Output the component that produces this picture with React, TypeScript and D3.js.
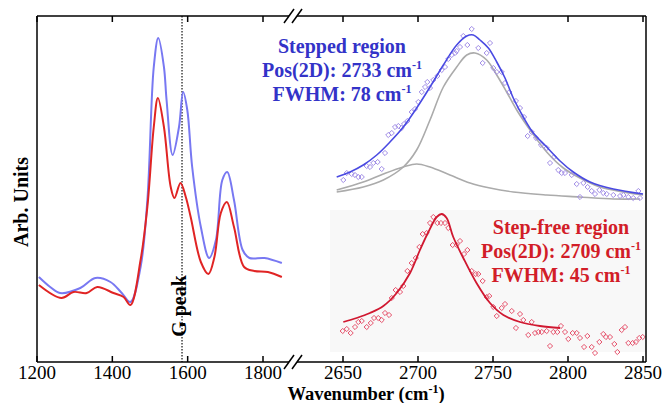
import { useEffect, useRef } from "react";
import * as d3 from "d3";

// left panel: D / G band region (arb. units)
const blueLeftX = [1205, 1235, 1261, 1315, 1355, 1395, 1425, 1448, 1475, 1493, 1510, 1522, 1537, 1544, 1560, 1577, 1588, 1599, 1612, 1635, 1657, 1675, 1692, 1705, 1723, 1746, 1764, 1804, 1850];
const blueLeftY = [85, 75, 69, 74, 84, 80, 69, 60, 95, 162, 295, 324, 295, 262, 207, 235, 270, 252, 195, 135, 104, 122, 182, 190, 162, 112, 104, 104, 99];
const redLeftX = [1205, 1265, 1297, 1332, 1360, 1403, 1430, 1448, 1475, 1493, 1510, 1521, 1537, 1555, 1565, 1581, 1595, 1608, 1635, 1655, 1671, 1688, 1704, 1723, 1750, 1777, 1813, 1850];
const redLeftY = [77, 64, 70, 69, 75, 69, 65, 57, 102, 155, 235, 264, 235, 175, 164, 179, 165, 145, 100, 88, 105, 149, 160, 135, 95, 91, 90, 85];
const gPeak = 1585;

// right panel, stepped region (2D band)
const stepX = [2650.2, 2652.5, 2655.8, 2658, 2660.2, 2662.5, 2665.8, 2668, 2670.2, 2673.1, 2675.8, 2678, 2680.2, 2682.5, 2684.7, 2686.9, 2689.1, 2690.7, 2692.9, 2695.8, 2698, 2700.2, 2702.5, 2704.7, 2706.2, 2708, 2710.2, 2712.9, 2715.8, 2718, 2720.2, 2722.5, 2724.7, 2725.8, 2728, 2730.2, 2732.9, 2735.8, 2740.2, 2743.1, 2745.8, 2748, 2750.2, 2752.5, 2755.8, 2758, 2760.9, 2765.3, 2768, 2770.7, 2773.1, 2775.8, 2778.7, 2782, 2785.8, 2788, 2790.7, 2793.5, 2795.8, 2798, 2802.5, 2805.8, 2808, 2810.2, 2813.1, 2815.8, 2818, 2820.9, 2823.5, 2825.8, 2830.2, 2834.7, 2836.9, 2840.2, 2843.5, 2846.9, 2848];
const stepY = [182, 189, 188, 187, 185, 185, 196, 195, 199, 200, 193, 209, 227, 229, 235, 236, 234, 238, 241, 250, 253, 260, 270, 275, 280, 274, 282, 286, 292, 295, 303, 307, 309, 311, 315, 326, 317, 333, 314, 299, 309, 319, 294, 290, 290, 279, 270, 261, 254, 245, 226, 230, 224, 217, 214, 199, 205, 192, 189, 189, 187, 178, 165, 179, 175, 171, 168, 172, 169, 168, 167, 166, 167, 165, 164, 171, 164];
const stepFitX = [2645.8, 2654.7, 2663.5, 2672.5, 2681.3, 2690.2, 2699.1, 2708, 2716.9, 2725.8, 2732.5, 2736.9, 2741.3, 2746.9, 2752.5, 2758, 2763.5, 2770.2, 2776.9, 2785.8, 2794.7, 2803.5, 2814.7, 2830.2, 2850];
const stepFitY = [185, 190, 197, 207, 220, 235, 254, 275, 297, 317, 326, 327, 322, 314, 300, 284, 264, 245, 229, 215, 201, 190, 180, 173, 168];
const peakAX = [2645.8, 2663.5, 2676.9, 2690.2, 2699.1, 2708, 2716.9, 2725.8, 2732.5, 2738, 2745.8, 2752.5, 2759.1, 2765.8, 2774.7, 2785.8, 2796.9, 2808, 2821.3, 2836.9, 2850];
const peakAY = [170, 175, 182, 195, 212, 242, 275, 295, 307, 309, 302, 287, 270, 252, 232, 210, 194, 184, 175, 170, 167];
const peakBX = [2645.8, 2663.5, 2676.9, 2690.2, 2699.1, 2708, 2721.3, 2734.7, 2748, 2763.5, 2785.8, 2808, 2830.2, 2848];
const peakBY = [172, 180, 188, 195, 198, 195, 187, 179, 174, 170, 167, 165, 163, 163];

// right panel, step-free region
const freeX = [2649.8, 2652.5, 2655.1, 2658, 2660.2, 2662.5, 2665.8, 2668.5, 2670.7, 2673.5, 2675.8, 2678, 2680.7, 2682.5, 2685.1, 2688, 2690.2, 2692.9, 2695.8, 2698.5, 2700.9, 2703.1, 2705.8, 2708, 2710.2, 2712.9, 2715.3, 2718, 2720.2, 2723.1, 2725.8, 2728, 2730.7, 2732.9, 2735.8, 2738.5, 2740.2, 2743.1, 2745.8, 2747.5, 2750.2, 2752.5, 2755.8, 2758, 2762.5, 2765.3, 2768, 2770.2, 2773.5, 2775.8, 2778, 2780.2, 2782.5, 2785.8, 2788, 2790.2, 2792.9, 2795.3, 2798, 2800.2, 2803.1, 2805.8, 2808, 2810.7, 2812.9, 2815.8, 2818, 2820.9, 2823.5, 2825.3, 2828, 2830.9, 2832.9, 2835.8, 2838, 2840.2, 2843.1, 2845.3, 2847.5, 2849.8];
const freeY = [31, 33, 29, 35, 40, 41, 35, 39, 44, 44, 42, 49, 47, 64, 72, 70, 76, 91, 99, 104, 115, 128, 129, 139, 145, 139, 139, 139, 134, 117, 117, 121, 108, 112, 91, 88, 88, 81, 65, 66, 55, 46, 54, 58, 51, 34, 48, 42, 27, 40, 29, 30, 30, 31, 16, 30, 30, 36, 30, 23, 29, 29, 24, 15, 26, 15, 9, 20, 28, 25, 25, 18, 10, 32, 35, 19, 19, 20, 24, 25];
const freeFitX = [2650.2, 2659.1, 2668, 2676.9, 2685.8, 2694.7, 2701.3, 2706.9, 2712.5, 2715.8, 2719.1, 2723.5, 2730.2, 2739, 2748, 2756.9, 2768, 2781.3, 2794.7];
const freeFitY = [40, 44, 49, 56, 69, 89, 112, 130, 145, 148, 144, 125, 104, 79, 59, 47, 40, 36, 34];

const leftTicks = [1200, 1400, 1600, 1800];
const rightTicks = [2650, 2700, 2750, 2800, 2850];
const steppedText = [["Stepped region", ""], ["Pos(2D): 2733 cm", "-1"], ["FWHM: 78 cm", "-1"]];
const freeText = [["Step-free region", ""], ["Pos(2D): 2709 cm", "-1"], ["FWHM: 45 cm", "-1"]];

const serif = "Liberation Serif, Times New Roman, DejaVu Serif, serif";

function RamanChart() {
    const node = useRef<SVGSVGElement>(null);

    useEffect(() => {
        const width = 665, height = 403;
        const top = 16, bottom = 362, left = 37, right = 646, brk = 293;
        const svg = d3.select(node.current);
        svg.selectAll("*").remove();

        const xL = d3.scaleLinear().domain([1200, 1800]).range([37, 263]);
        const xR = d3.scaleLinear().domain([2650, 2850]).range([343, 643]);
        const y = d3.scaleLinear().domain([0, 346]).range([bottom, top]);

        svg.attr("width", width).attr("height", height).attr("font-family", serif);

        // faint box behind step-free spectrum
        svg.append("rect").attr("x", 330).attr("y", 210).attr("width", right - 330).attr("height", 142)
            .attr("fill", "#f8f8f8");

        const line = (xs: number[], ys: number[], sx: d3.ScaleLinear<number, number>) =>
            d3.line<number>().x(i => sx(xs[i])).y(i => y(ys[i])).curve(d3.curveCatmullRom.alpha(0.5))(d3.range(xs.length));

        // G peak marker
        svg.append("line").attr("x1", xL(gPeak)).attr("x2", xL(gPeak)).attr("y1", top).attr("y2", bottom)
            .attr("stroke", "#111").attr("stroke-width", 1.2).attr("stroke-dasharray", "1.5,1.5");

        svg.append("path").attr("d", line(blueLeftX, blueLeftY, xL)).attr("fill", "none")
            .attr("stroke", "#7878f2").attr("stroke-width", 2);
        svg.append("path").attr("d", line(redLeftX, redLeftY, xL)).attr("fill", "none")
            .attr("stroke", "#e02424").attr("stroke-width", 2);

        svg.append("text").attr("transform", `translate(${xL(gPeak) + 4},306) rotate(-90)`)
            .attr("font-family", serif)
            .attr("text-anchor", "middle").attr("font-weight", "bold").attr("font-size", 20).attr("fill", "#000")
            .text("G peak");

        // stepped region
        svg.append("path").attr("d", line(peakBX, peakBY, xR)).attr("fill", "none").attr("stroke", "#ababab").attr("stroke-width", 1.6);
        svg.append("path").attr("d", line(peakAX, peakAY, xR)).attr("fill", "none").attr("stroke", "#ababab").attr("stroke-width", 1.6);
        const diamond = "M0,-2.6L2.6,0L0,2.6L-2.6,0Z";
        svg.append("g").selectAll("path").data(d3.range(stepX.length)).enter().append("path")
            .attr("d", diamond).attr("transform", i => `translate(${xR(stepX[i])},${y(stepY[i])})`)
            .attr("fill", "none").attr("stroke", "#a08ce6").attr("stroke-width", 1);
        svg.append("path").attr("d", line(stepFitX, stepFitY, xR)).attr("fill", "none").attr("stroke", "#4a4ae2").attr("stroke-width", 1.6);

        // step-free region
        svg.append("g").selectAll("path").data(d3.range(freeX.length)).enter().append("path")
            .attr("d", diamond).attr("transform", i => `translate(${xR(freeX[i])},${y(freeY[i])})`)
            .attr("fill", "none").attr("stroke", "#e6506a").attr("stroke-width", 1);
        svg.append("path").attr("d", line(freeFitX, freeFitY, xR)).attr("fill", "none").attr("stroke", "#d01830").attr("stroke-width", 1.8);

        // frame
        const frame = svg.append("g").attr("stroke", "#000").attr("stroke-width", 1.5).attr("fill", "none");
        frame.append("line").attr("x1", left).attr("x2", right).attr("y1", top).attr("y2", top);
        frame.append("line").attr("x1", left).attr("x2", right).attr("y1", bottom).attr("y2", bottom);
        frame.append("line").attr("x1", left).attr("x2", left).attr("y1", top).attr("y2", bottom);
        frame.append("line").attr("x1", right).attr("x2", right).attr("y1", top).attr("y2", bottom);

        // axis break
        [top, bottom].forEach(yy => {
            svg.append("rect").attr("x", brk - 4).attr("y", yy - 2).attr("width", 8).attr("height", 4).attr("fill", "#fff");
            [-4, 4].forEach(dx => {
                svg.append("line").attr("x1", brk + dx - 5).attr("y1", yy + 7).attr("x2", brk + dx + 5).attr("y2", yy - 7)
                    .attr("stroke", "#000").attr("stroke-width", 1.5);
            });
        });

        // ticks and labels
        const tickG = svg.append("g");
        const addTicks = (vals: number[], sx: d3.ScaleLinear<number, number>) => {
            vals.forEach(v => {
                const xx = sx(v);
                tickG.append("line").attr("x1", xx).attr("x2", xx).attr("y1", bottom).attr("y2", bottom - 6).attr("stroke", "#000").attr("stroke-width", 1.5);
                tickG.append("line").attr("x1", xx).attr("x2", xx).attr("y1", top).attr("y2", top + 6).attr("stroke", "#000").attr("stroke-width", 1.5);
                tickG.append("text").attr("x", xx).attr("y", 379).attr("text-anchor", "middle")
                    .attr("font-family", serif).attr("font-size", 19).text(v);
            });
        };
        addTicks(leftTicks, xL);
        addTicks(rightTicks, xR);

        // axis titles
        const xt = svg.append("text").attr("x", 366).attr("y", 400).attr("text-anchor", "middle")
            .attr("font-family", serif).attr("font-size", 18.5).attr("font-weight", "bold");
        xt.append("tspan").text("Wavenumber (cm");
        xt.append("tspan").attr("font-size", 12).attr("dy", -7).text("-1");
        xt.append("tspan").attr("dy", 7).text(")");

        svg.append("text").attr("transform", "translate(28,202) rotate(-90)").attr("text-anchor", "middle")
            .attr("font-family", serif).attr("font-size", 20).attr("font-weight", "bold").text("Arb. Units");

        // annotations
        const block = (lines: string[][], cx: number, y0: number, color: string) => {
            lines.forEach((l, i) => {
                const t = svg.append("text").attr("x", cx).attr("y", y0 + i * 24).attr("text-anchor", "middle")
                    .attr("font-family", serif).attr("font-size", 20).attr("font-weight", "bold").attr("fill", color);
                t.append("tspan").text(l[0]);
                if (l[1]) t.append("tspan").attr("font-size", 12).attr("dy", -8).text(l[1]);
            });
        };
        block(steppedText, 342, 53, "#3333c8");
        block(freeText, 561, 234, "#d21d28");
    }, []);

    return <svg ref={node} style={{ display: "block" }} />;
}

export default function App() {
    return (
        <div style={{ position: "fixed", left: 0, top: 0, width: 665, height: 403, overflow: "hidden", background: "#fff" }}>
            <RamanChart />
        </div>
    );
}
